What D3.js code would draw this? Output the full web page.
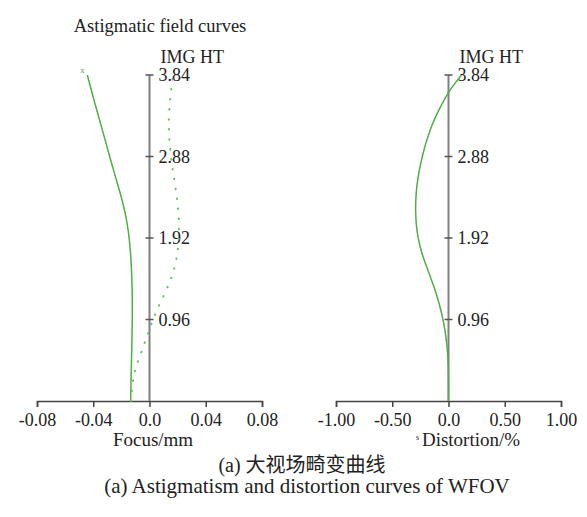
<!DOCTYPE html>
<html>
<head>
<meta charset="utf-8">
<script src="https://cdn.jsdelivr.net/npm/d3@7"></script>
<style>
  body { margin: 0; background: #fff; }
  svg text { font-family: "Liberation Serif", "Times New Roman", serif; fill: #222; }
</style>
</head>
<body>
<div id="chart"></div>
<script>
// image height (mm) ticks shared by both panels
const imgHtTicks = [0.96, 1.92, 2.88, 3.84];

// astigmatic field curves: [img ht, focus mm]
const tangential = [
  [0.00, -0.0134], [0.30, -0.0131], [0.60, -0.0126], [0.95, -0.0122],
  [1.30, -0.0122], [1.65, -0.0130], [1.89, -0.0142], [2.07, -0.0156],
  [2.24, -0.0176], [2.42, -0.0203], [2.60, -0.0235], [2.88, -0.0284],
  [3.19, -0.0334], [3.54, -0.0395], [3.84, -0.0442]
];
const sagittal = [
  [0.00, -0.0132], [0.22, -0.0119], [0.34, -0.0110], [0.57, -0.0060],
  [0.80, -0.0009], [1.03, 0.0039], [1.27, 0.0110], [1.48, 0.0165],
  [1.71, 0.0198], [1.95, 0.0212], [2.22, 0.0208], [2.48, 0.0188],
  [2.71, 0.0167], [2.95, 0.0146], [3.19, 0.0137], [3.46, 0.0139],
  [3.72, 0.0158], [3.84, 0.0167]
];

// distortion curve: [img ht, distortion %]
const distortion = [
  [0.00, 0.000], [0.34, 0.000], [0.50, -0.004], [0.65, -0.013],
  [0.81, -0.028], [0.97, -0.050], [1.12, -0.077], [1.28, -0.112],
  [1.44, -0.155], [1.60, -0.200], [1.75, -0.240], [1.91, -0.270],
  [2.07, -0.287], [2.24, -0.294], [2.44, -0.290], [2.64, -0.272],
  [2.83, -0.243], [3.03, -0.204], [3.21, -0.160], [3.36, -0.112],
  [3.50, -0.058], [3.64, 0.000], [3.72, 0.045], [3.84, 0.115]
];

const focusTicks = [-0.08, -0.04, 0, 0.04, 0.08];
const focusLabels = ["-0.08", "-0.04", "0.0", "0.04", "0.08"];
const distTicks = [-1, -0.5, 0, 0.5, 1];
const distLabels = ["-1.00", "-0.50", "0.0", "0.50", "1.00"];

const W = 587, H = 517;
const green = "#4fae45";

const svg = d3.select("#chart").append("svg")
  .attr("width", W)
  .attr("height", H);

// both panels use the same vertical scale
const y = d3.scaleLinear().domain([0, 3.84]).range([401, 75]);

function panel(x, ticks, labels, axisTitle, titleX) {
  const g = svg.append("g");

  // bottom axis
  const ax = g.append("g")
    .attr("transform", "translate(0,401)")
    .call(d3.axisBottom(x).tickValues(ticks)
      .tickFormat((d, i) => labels[i]).tickSizeOuter(0).tickSize(6).tickPadding(6));
  ax.select(".domain").attr("stroke", "#444").attr("stroke-width", 1.5);
  ax.selectAll(".tick line").attr("stroke", "#444").attr("stroke-width", 1.5);
  ax.selectAll(".tick text")
    .attr("font-size", 18).attr("fill", "#222");

  // vertical img ht axis at zero
  const x0 = x(0);
  g.append("line")
    .attr("x1", x0).attr("x2", x0)
    .attr("y1", y(3.84)).attr("y2", y(0))
    .attr("stroke", "#808080").attr("stroke-width", 2);

  g.selectAll(".ytick")
    .data(imgHtTicks)
    .enter().append("line")
      .attr("x1", x0 - 4).attr("x2", x0 + 4)
      .attr("y1", d => y(d)).attr("y2", d => y(d))
      .attr("stroke", "#555").attr("stroke-width", 1.5);

  g.selectAll(".ylabel")
    .data(imgHtTicks)
    .enter().append("text")
      .attr("x", x0 + 9)
      .attr("y", d => y(d) + 6)
      .attr("font-size", 18)
      .text(d => d.toFixed(2));

  g.append("text")
    .attr("x", x0 + 11).attr("y", 63)
    .attr("font-size", 18)
    .text("IMG HT");

  g.append("text")
    .attr("x", titleX).attr("y", 446)
    .attr("text-anchor", "middle")
    .attr("font-size", 19)
    .text(axisTitle);

  return g;
}

// left panel: astigmatic field curves
const xF = d3.scaleLinear().domain([-0.08, 0.08]).range([37, 262]);
const left = panel(xF, focusTicks, focusLabels, "Focus/mm", 153);

left.append("text")
  .attr("x", 160).attr("y", 32)
  .attr("text-anchor", "middle")
  .attr("font-size", 18.5)
  .text("Astigmatic field curves");

const lineF = d3.line()
  .x(d => xF(d[1]))
  .y(d => y(d[0]))
  .curve(d3.curveBasis);

left.append("path")
  .datum(tangential)
  .attr("fill", "none")
  .attr("stroke", green)
  .attr("stroke-width", 1.5)
  .attr("d", lineF);

left.append("path")
  .datum(sagittal)
  .attr("fill", "none")
  .attr("stroke", "#6dbb6a")
  .attr("stroke-width", 2)
  .attr("stroke-linecap", "round")
  .attr("stroke-dasharray", "0.5,9.5")
  .attr("d", lineF);

// small marker at the top of the tangential curve
left.append("text")
  .attr("x", xF(tangential[tangential.length - 1][1]) - 7)
  .attr("y", y(3.84) - 2)
  .attr("font-size", 9)
  .style("fill", green)
  .text("x");

// right panel: distortion
const xD = d3.scaleLinear().domain([-1, 1]).range([336, 561]);
const right = panel(xD, distTicks, distLabels, "Distortion/%", 471);

right.append("text")
  .attr("x", 416).attr("y", 440)
  .attr("font-size", 8)
  .text("s");

right.append("path")
  .datum(distortion)
  .attr("fill", "none")
  .attr("stroke", green)
  .attr("stroke-width", 1.5)
  .attr("d", d3.line()
    .x(d => xD(d[1]))
    .y(d => y(d[0]))
    .curve(d3.curveBasis));

// captions
svg.append("text")
  .attr("x", 302).attr("y", 472)
  .attr("text-anchor", "middle")
  .attr("font-size", 20)
  .style("font-family", "'Liberation Serif', 'Noto Sans CJK SC', serif")
  .text("(a) 大视场畸变曲线");

svg.append("text")
  .attr("x", 307).attr("y", 493)
  .attr("text-anchor", "middle")
  .attr("font-size", 21)
  .text("(a) Astigmatism and distortion curves of WFOV");
</script>
</body>
</html>
